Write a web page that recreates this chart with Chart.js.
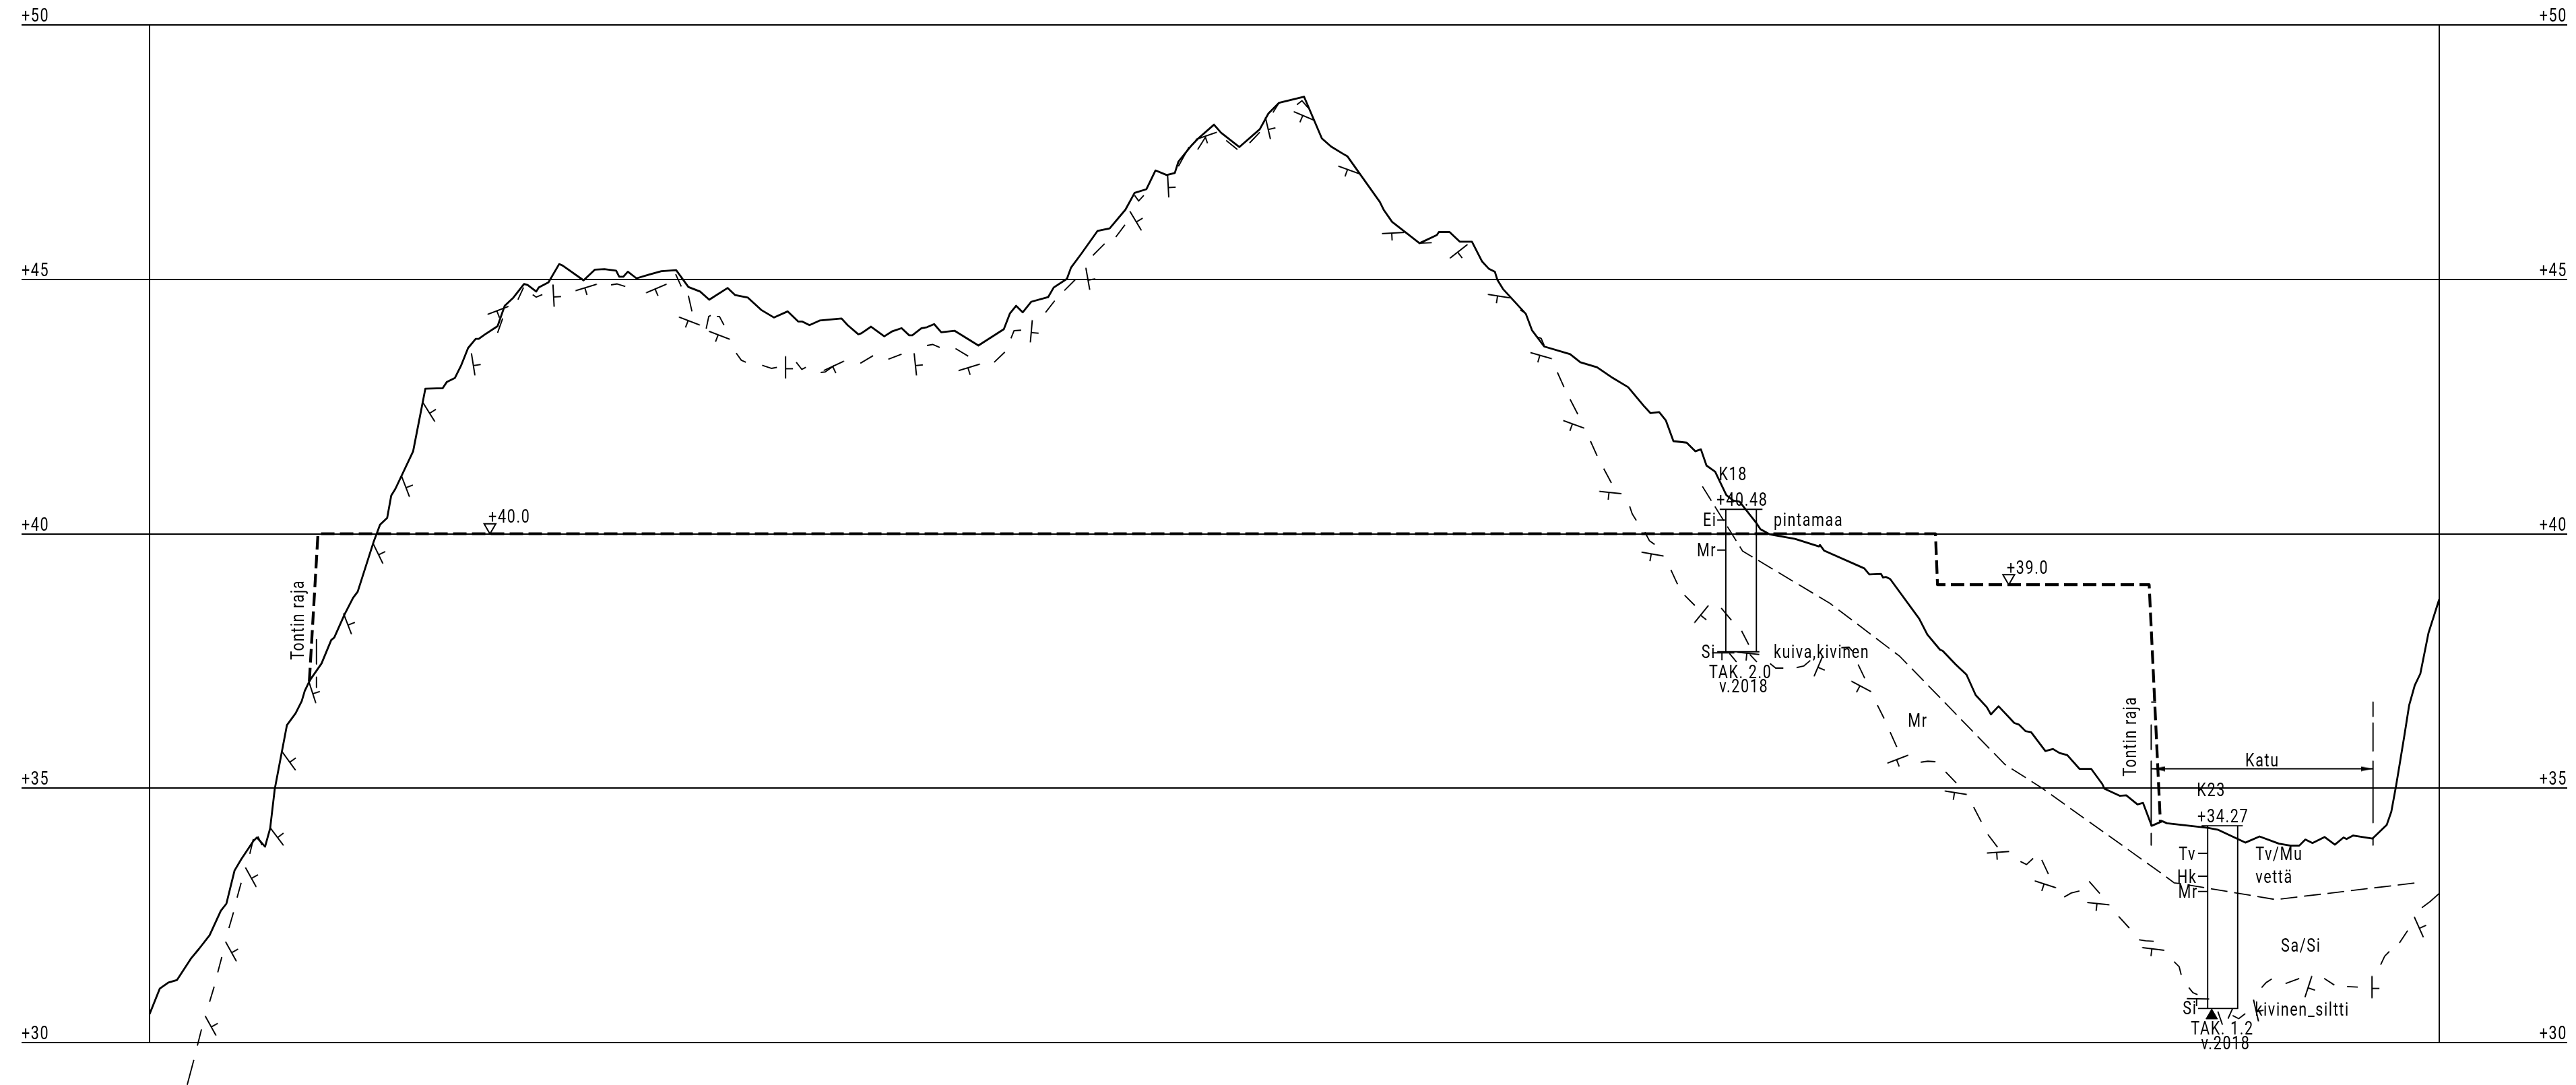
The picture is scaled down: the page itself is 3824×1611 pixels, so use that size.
<!DOCTYPE html>
<html>
<head>
<meta charset="utf-8">
<style>
    html, body { margin: 0; padding: 0; background: #fff; }
    canvas { display: block; }
</style>
</head>
<body>
<canvas id="profile" width="3824" height="1611"></canvas>
<script src="https://cdn.jsdelivr.net/npm/chart.js@4/dist/chart.umd.min.js"></script>
<script>
// tick labels of the level axis
const levelTicks = [30, 35, 40, 45, 50];
const borderStations = [0, 45];

// ground surface: station (m), level (m)
const groundX = [0.00,0.20,0.37,0.54,0.82,0.97,1.18,1.40,1.51,1.67,1.80,2.04,2.11,2.27,2.37,2.46,2.70,2.87,2.99,3.05,3.15,3.38,3.57,3.63,3.83,4.00,4.09,4.40,4.53,4.67,4.75,4.83,5.18,5.42,5.76,5.84,6.00,6.12,6.26,6.41,6.47,6.58,6.84,6.98,7.15,7.36,7.43,7.60,7.65,7.84,8.05,8.12,8.53,8.75,8.94,9.17,9.23,9.31,9.40,9.57,9.81,10.06,10.35,10.59,10.82,11.00,11.36,11.51,11.76,12.02,12.27,12.54,12.75,12.83,12.97,13.17,13.60,13.72,13.93,13.99,14.18,14.44,14.60,14.78,14.93,14.99,15.17,15.28,15.42,15.56,15.82,16.29,16.79,16.91,17.03,17.16,17.33,17.66,17.77,18.03,18.11,18.31,18.63,18.87,19.18,19.36,19.59,19.65,19.77,19.99,20.15,20.22,20.46,20.60,20.92,21.06,21.42,21.82,21.99,22.20,22.69,23.04,23.22,23.45,23.54,24.18,24.26,24.42,24.96,25.30,25.34,25.55,25.75,25.99,26.19,26.32,26.44,26.49,26.60,27.05,27.17,27.41,27.92,28.12,28.45,28.76,29.06,29.37,29.50,29.67,29.80,29.95,30.21,30.38,30.49,30.60,30.77,30.99,31.13,31.25,31.58,31.66,31.84,32.34,32.81,32.83,32.91,33.70,33.80,34.03,34.07,34.13,34.21,34.78,34.94,35.19,35.24,35.50,35.71,35.89,36.11,36.19,36.34,36.65,36.74,36.87,36.98,37.26,37.41,37.54,37.69,37.93,38.16,38.38,38.42,38.72,38.85,39.07,39.18,39.35,39.56,39.65,40.45,40.66,41.19,41.47,41.85,42.08,42.25,42.37,42.51,42.75,42.95,43.12,43.18,43.31,43.69,43.97,44.06,44.15,44.22,44.32,44.41,44.52,44.63,44.79,45.00];
const groundY = [30.56,31.06,31.18,31.23,31.66,31.84,32.11,32.59,32.73,33.38,33.60,33.96,34.03,33.85,34.21,34.98,36.24,36.47,36.71,36.91,37.12,37.45,37.91,37.96,38.41,38.74,38.86,39.83,40.18,40.31,40.75,40.88,41.62,42.85,42.86,42.98,43.06,43.30,43.65,43.83,43.83,43.91,44.08,44.48,44.64,44.91,44.89,44.76,44.84,44.94,45.30,45.27,44.98,45.19,45.20,45.17,45.05,45.05,45.15,45.02,45.09,45.16,45.18,44.85,44.76,44.60,44.83,44.69,44.64,44.40,44.25,44.37,44.17,44.17,44.10,44.19,44.23,44.10,43.92,43.94,44.07,43.88,43.98,44.04,43.90,43.90,44.04,44.06,44.12,43.96,43.99,43.70,44.02,44.33,44.48,44.35,44.56,44.65,44.84,45.01,45.23,45.50,45.95,46.00,46.37,46.70,46.77,46.89,47.14,47.05,47.09,47.31,47.61,47.76,48.04,47.88,47.60,47.95,48.26,48.47,48.59,47.77,47.61,47.47,47.42,46.52,46.36,46.13,45.71,45.87,45.93,45.93,45.74,45.74,45.35,45.21,45.15,44.99,44.81,44.32,44.00,43.68,43.53,43.37,43.27,43.06,42.88,42.51,42.37,42.39,42.23,41.82,41.79,41.62,41.66,41.34,41.22,40.76,40.65,40.63,40.21,40.09,39.99,39.90,39.75,39.78,39.67,39.32,39.20,39.21,39.14,39.15,39.11,38.33,38.02,37.72,37.70,37.43,37.23,36.83,36.59,36.45,36.61,36.28,36.25,36.12,36.10,35.73,35.77,35.69,35.65,35.38,35.38,35.08,34.99,34.85,34.86,34.68,34.71,34.26,34.35,34.31,34.22,34.18,33.93,34.05,33.91,33.87,33.87,33.99,33.92,34.04,33.89,34.03,34.00,34.07,34.01,34.28,34.54,35.03,35.45,36.06,36.63,37.02,37.25,38.05,38.71];

// planned level (heavy dashed line)
const planX = [3.14,3.31,35.10,35.14,39.30,39.52];
const planY = [37.10,40.00,40.00,39.00,39.00,34.34];

// top of the silt / sand layer (thin dashed line)
const layerX = [30.52,31.31,33.03,34.40,35.46,36.46,37.18,39.55,39.79,39.87,41.79,44.64];
const layerY = [40.93,39.66,38.63,37.59,36.50,35.47,35.01,33.32,33.14,33.13,32.81,33.15];

// rock surface, each stroke read separately, null = pen up
const rockX = [0.74,0.87,null,0.94,1.02,null,1.18,1.27,null,1.34,1.42,null,1.56,1.65,null,1.72,1.80,null,1.97,2.04,null,2.13,2.21,null,6.84,6.94,null,7.24,7.35,null,7.53,7.60,7.72,null,9.07,9.19,9.35,null,10.34,10.45,null,10.59,10.66,null,10.94,10.99,11.03,null,11.15,11.20,11.29,null,11.53,11.63,11.72,null,12.04,12.22,12.33,null,12.71,12.82,12.90,null,13.19,13.28,13.46,null,13.97,14.22,null,14.52,14.78,null,15.28,15.39,15.53,null,15.84,16.09,null,16.60,16.81,null,16.93,16.99,17.13,null,17.61,17.79,null,17.98,18.19,null,18.54,18.77,null,18.99,19.17,null,19.36,19.44,19.54,null,20.22,20.43,null,20.60,20.75,null,21.16,21.38,null,21.62,21.82,null,22.08,22.20,null,22.55,22.65,22.77,null,24.96,25.20,null,26.94,27.02,null,27.26,27.35,27.41,null,27.67,27.80,null,27.92,28.07,null,28.32,28.45,null,28.58,28.73,null,29.09,29.14,29.22,null,29.39,29.48,29.58,null,29.90,30.03,null,30.17,30.37,null,30.89,31.09,null,31.29,31.43,null,31.05,31.19,null,31.45,31.59,null,31.85,31.96,32.11,null,32.37,32.51,32.64,null,33.25,33.40,33.47,null,33.58,33.71,null,33.96,34.09,null,34.21,34.34,null,34.81,34.95,35.10,null,35.30,35.51,null,35.85,36.00,null,36.13,36.32,null,36.77,36.89,37.02,null,37.19,37.32,null,37.63,37.77,37.93,null,38.12,38.33,null,38.70,38.91,null,39.10,39.23,39.39,null,39.79,39.89,39.93,null,40.08,40.16,40.25,null,40.65,40.74,null,40.85,40.94,null,40.94,41.06,41.19,null,41.51,41.60,41.71,null,41.98,42.25,null,42.74,42.94,null,43.19,43.40,null,43.85,43.93,44.02,null,44.22,44.38,null,44.66,44.82,45.00];
const rockY = [29.17,29.66,null,29.94,30.26,null,30.80,31.10,null,31.38,31.68,null,32.25,32.56,null,32.85,33.14,null,33.71,34.00,null,34.05,33.88,null,43.95,44.23,null,44.60,44.84,null,44.70,44.65,44.70,null,44.89,44.91,44.86,null,45.10,44.86,null,44.68,44.37,null,44.03,44.27,44.29,null,44.27,44.27,44.10,null,43.55,43.41,43.37,null,43.31,43.25,43.27,null,43.37,43.23,43.27,null,43.17,43.18,43.31,null,43.35,43.50,null,43.43,43.53,null,43.70,43.72,43.66,null,43.64,43.49,null,43.37,43.57,null,43.84,43.99,44.00,null,44.35,44.58,null,44.78,44.99,null,45.47,45.70,null,45.83,46.07,null,46.65,46.54,46.65,null,47.22,47.60,null,47.55,47.79,null,47.73,47.55,null,47.68,47.89,null,48.28,48.47,null,48.43,48.51,48.37,null,45.71,45.72,null,44.40,44.35,null,43.87,43.84,43.70,null,43.17,42.88,null,42.64,42.35,null,41.82,41.53,null,41.28,41.00,null,40.54,40.39,40.26,null,40.03,39.86,39.79,null,39.29,39.01,null,38.79,38.59,null,38.54,38.30,null,38.09,37.82,null,37.65,37.48,null,37.63,37.48,null,37.45,37.36,37.36,null,37.37,37.40,37.51,null,37.76,37.77,37.69,null,37.43,37.16,null,36.63,36.37,null,36.10,35.81,null,35.51,35.53,35.52,null,35.32,35.10,null,34.63,34.34,null,34.09,33.84,null,33.56,33.50,33.62,null,33.59,33.31,null,32.86,32.94,32.98,null,33.17,32.93,null,32.48,32.25,null,32.02,32.00,31.99,null,31.59,31.49,31.33,null,31.08,30.98,30.94,null,30.61,30.35,null,30.47,30.67,null,30.53,30.47,30.57,null,31.08,31.18,31.25,null,31.16,31.26,null,31.26,31.13,null,31.10,31.09,null,31.53,31.70,31.79,null,31.96,32.20,null,32.65,32.77,32.93];

// rock symbols along the surface: station, level, turn in degrees
const rockMarkX = [1.20,1.60,1.99,2.50,2.74,3.20,3.89,4.49,5.03,5.49,6.36,6.85,7.94,8.58,9.96,10.61,11.20,12.50,13.45,15.05,16.11,17.33,18.44,19.38,20.02,21.98,20.77,22.69,23.57,24.44,25.73,26.52,27.35,27.99,28.71,29.54,30.50,30.93,31.42,32.80,33.64,34.36,35.50,36.33,37.26,38.30,39.38,40.26,41.40,42.43,43.68,44.60];
const rockMarkY = [30.33,31.79,33.25,34.05,35.53,36.88,38.23,39.61,40.93,42.39,43.33,44.39,44.68,44.84,44.82,44.18,43.90,43.27,43.30,43.33,43.27,43.98,45.01,46.15,46.83,47.97,47.82,48.21,47.15,45.91,45.55,44.67,43.50,42.15,40.81,39.60,38.42,37.66,37.65,37.40,37.00,35.57,34.91,33.74,33.11,32.73,31.84,30.86,30.63,31.10,31.09,32.27];
const rockMarkTurn = [-119,-119,-119,-127,-126,-108,-111,-116,-111,-122,-99,-21,-93,-17,-23,21,21,-90,-25,-96,-17,-85,-100,-121,-93,-103,-19,23,20,-3,-38,9,16,20,6,10,-51,0,6,-67,28,-21,9,-4,18,6,7,1,-103,-72,-90,-114];

// boreholes with their layer ticks
const k18X = [30.98,30.98,31.58,31.58,30.98,null,30.86,31.70,null,30.81,30.98,null,30.81,30.98,null,30.81,31.64];
const k18Y = [37.68,40.48,40.48,37.68,37.68,null,40.48,40.48,null,40.27,40.27,null,39.68,39.68,null,37.68,37.68];
const k23X = [40.45,40.45,41.04,41.04,40.45,null,40.33,41.14,null,40.26,40.45,null,40.26,40.45,null,40.26,40.45,null,40.26,41.04];
const k23Y = [30.67,34.26,34.26,30.67,30.67,null,34.26,34.26,null,33.72,33.72,null,33.27,33.27,null,32.97,32.97,null,30.67,30.67];

// plot boundary and street limit strokes
const limitX = [3.28,3.28,null,3.28,3.28,null,39.34,39.44,null,39.34,39.34,null,39.34,39.34,null,39.34,39.34,null,43.70,43.70,null,43.70,43.70,null,43.70,43.70,null,43.70,43.70];
const limitY = [37.92,37.44,null,37.18,36.98,null,36.69,36.69,null,36.24,35.76,null,35.53,34.26,null,34.11,33.88,null,36.69,36.41,null,36.28,35.73,null,35.53,34.32,null,34.01,33.88];

// street width dimension
const dimensionX = [39.34,43.70];
const dimensionY = [35.38,35.38];
const arrowX = [39.49,43.58];
const arrowY = [35.38,35.38];
const arrowTurn = [180,0];

// level symbols and the end of drilling symbol
const levelMarkX = [6.69,36.54];
const levelMarkY = [40.13,39.13];
const stopMarkX = [40.53];
const stopMarkY = [30.53];

// texts: left end of the text, baseline level
const labelTexts = ['+40.0','+39.0','K18','+40.48','Ei','Mr','Si','pintamaa','kuiva,kivinen','TAK. 2.0','v.2018','Mr','Katu','K23','+34.27','Tv','Hk','Mr','Si','Tv/Mu','vettä','Sa/Si','kivinen_siltti','TAK. 1.2','v.2018'];
const labelX = [6.66,36.50,30.84,30.80,30.53,30.41,30.50,31.92,31.92,30.65,30.85,34.56,41.19,40.24,40.25,39.88,39.85,39.87,39.96,41.39,41.39,41.89,41.38,40.12,40.32];
const labelY = [40.22,39.21,41.05,40.55,40.15,39.56,37.56,40.15,37.56,37.16,36.88,36.21,35.43,34.85,34.33,33.59,33.14,32.85,30.55,33.59,33.14,31.79,30.53,30.16,29.87];
const uprightTexts = ['Tontin raja','Tontin raja'];
const uprightX = [3.03,39.05];
const uprightY = [37.52,35.23];

const ink = '#000';
const textFont = '400 27px Roboto';
const textSqueeze = 0.8;

function zip(xs, ys) {
    return xs.map((x, i) => ({ x: x, y: ys[i] }));
}

function lineSet(xs, ys, width, dash) {
    return {
        data: zip(xs, ys),
        showLine: true,
        borderColor: ink,
        borderWidth: width,
        borderDash: dash || [],
        borderCapStyle: 'butt',
        borderJoinStyle: 'round',
        pointRadius: 0,
        tension: 0,
        spanGaps: false,
        clip: false
    };
}

// the T shaped rock symbol, centre of the bar is in the centre of the canvas
function rockSymbol() {
    const c = document.createElement('canvas');
    c.width = 44;
    c.height = 44;
    const g = c.getContext('2d');
    g.strokeStyle = ink;
    g.lineWidth = 1.9;
    g.beginPath();
    g.moveTo(5.5, 22);
    g.lineTo(38.5, 22);
    g.moveTo(20, 22);
    g.lineTo(20, 33);
    g.stroke();
    return c;
}

function arrowSymbol() {
    const c = document.createElement('canvas');
    c.width = 18;
    c.height = 8;
    const g = c.getContext('2d');
    g.fillStyle = ink;
    g.beginPath();
    g.moveTo(0, 0.5);
    g.lineTo(18, 4);
    g.lineTo(0, 7.5);
    g.closePath();
    g.fill();
    return c;
}

function drawText(ctx, text, px, py, turned, align) {
    ctx.save();
    ctx.translate(px, py);
    if (turned) ctx.rotate(-Math.PI / 2);
    ctx.scale(textSqueeze, 1);
    ctx.textAlign = align || 'left';
    ctx.fillText(text, 0, 0);
    ctx.restore();
}

const drawingTexts = {
    id: 'drawingTexts',
    afterDatasetsDraw(chart) {
        const { ctx, scales, chartArea } = chart;
        ctx.save();
        ctx.font = textFont;
        ctx.fillStyle = ink;
        ctx.textBaseline = 'alphabetic';
        ctx.letterSpacing = '2px';
        levelTicks.forEach(level => {
            const py = scales.y.getPixelForValue(level) - 5;
            drawText(ctx, '+' + level, chartArea.left, py);
            drawText(ctx, '+' + level, chartArea.right, py, false, 'right');
        });
        labelTexts.forEach((text, i) => {
            drawText(ctx, text, scales.x.getPixelForValue(labelX[i]), scales.y.getPixelForValue(labelY[i]));
        });
        uprightTexts.forEach((text, i) => {
            drawText(ctx, text, scales.x.getPixelForValue(uprightX[i]), scales.y.getPixelForValue(uprightY[i]), true);
        });
        ctx.restore();
    }
};

new Chart(document.getElementById('profile'), {
    type: 'scatter',
    data: {
        datasets: [
            lineSet(groundX, groundY, 2.8),
            lineSet(planX, planY, 4.2, [20, 8]),
            lineSet(layerX, layerY, 1.8, [25, 10]),
            lineSet(rockX, rockY, 1.9),
            lineSet(k18X, k18Y, 1.9),
            lineSet(k23X, k23Y, 1.9),
            lineSet(limitX, limitY, 1.9),
            lineSet(dimensionX, dimensionY, 1.9),
            {
                data: zip(rockMarkX, rockMarkY),
                pointStyle: rockSymbol(),
                rotation: rockMarkTurn,
                pointRadius: 5,
                clip: false
            },
            {
                data: zip(arrowX, arrowY),
                pointStyle: arrowSymbol(),
                rotation: arrowTurn,
                pointRadius: 5,
                clip: false
            },
            {
                data: zip(levelMarkX, levelMarkY),
                pointStyle: 'triangle',
                rotation: 180,
                pointRadius: 10,
                pointBorderWidth: 2,
                pointBorderColor: ink,
                pointBackgroundColor: '#fff'
            },
            {
                data: zip(stopMarkX, stopMarkY),
                pointStyle: 'triangle',
                pointRadius: 10,
                pointBorderWidth: 1,
                pointBorderColor: ink,
                pointBackgroundColor: ink
            }
        ]
    },
    options: {
        responsive: false,
        animation: false,
        devicePixelRatio: 1,
        layout: { padding: { left: 32, right: 13, top: 37, bottom: 63 } },
        plugins: { legend: { display: false }, tooltip: { enabled: false } },
        scales: {
            x: {
                type: 'linear',
                min: -2.516,
                max: 47.517,
                border: { display: false },
                ticks: { display: false },
                grid: { color: ink, lineWidth: 2, drawTicks: false },
                afterBuildTicks(axis) {
                    axis.ticks = borderStations.map(v => ({ value: v }));
                }
            },
            y: {
                type: 'linear',
                min: 30,
                max: 50,
                border: { display: false },
                ticks: { display: false, stepSize: 5 },
                grid: { color: ink, lineWidth: 2, drawTicks: false },
                afterBuildTicks(axis) {
                    axis.ticks = levelTicks.map(v => ({ value: v }));
                }
            }
        }
    },
    plugins: [drawingTexts]
});
</script>
</body>
</html>
